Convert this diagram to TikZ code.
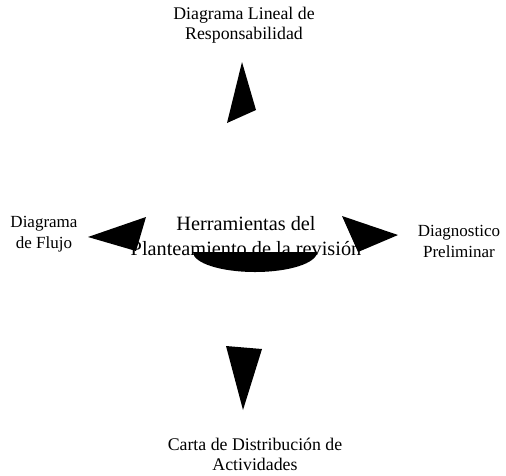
\documentclass[tikz,border=0pt]{standalone}
\usepackage{fontspec}
\setmainfont{Liberation Serif}
\usetikzlibrary{positioning}

\begin{document}
\begin{tikzpicture}[x=1pt,y=-1pt,
  lbl/.style={align=center,inner sep=0pt,font=\fontsize{17}{21}\selectfont},
  wide/.style={lbl,font=\fontsize{17.8}{20}\selectfont},
  core/.style={align=center,inner sep=0pt,font=\fontsize{20.3}{25.5}\selectfont},
  wedge/.style={fill=black,draw=none}
]
\useasboundingbox (0,0) rectangle (506,475);
% outer labels
\node[wide] (dlr) at (244,25) {Diagrama Lineal de\\Responsabilidad};
\node[lbl] (flujo) at (44,234) {Diagrama\\de Flujo};
\node[lbl] (diag) at (459,241) {Diagnostico\\Preliminar};
\node[wide] (carta) at (255,454) {Carta de Distribución de\\Actividades};
% wedges pointing out
\foreach \t/\a/\b in {{242,62}/{227,123}/{256,110},
                      {88,237}/{146,217}/{136,251},
                      {398,235}/{342,216}/{358,252},
                      {243,410}/{226,346}/{262,349}}{
  \fill[wedge] (\t) -- (\a) -- (\b) -- cycle;
}
% half disc under the title
\fill[black] (193,252) arc[start angle=180,end angle=360,x radius=62,y radius=-20] -- cycle;
\node[core] (herr) at (246,236) {Herramientas del\\Planteamiento de la revisión};
\end{tikzpicture}
\end{document}
